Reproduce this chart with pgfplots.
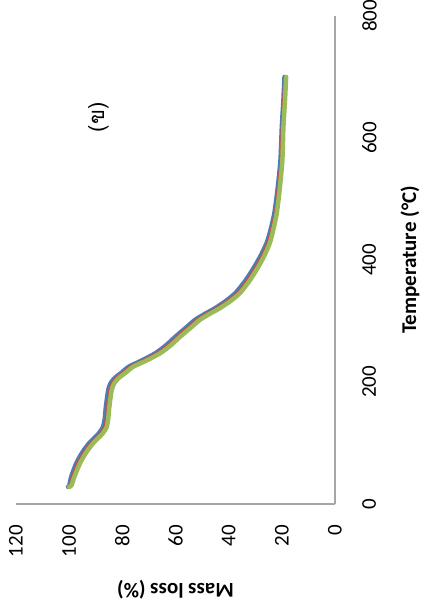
\documentclass[border=0pt]{standalone}
\usepackage{pgfplots}
\pgfplotsset{compat=1.18}
\usepackage{fontspec}
\setmainfont{Carlito}
\newfontfamily\thaifont[Script=Thai]{Loma}
\definecolor{xlblue}{HTML}{4A7EBB}
\definecolor{xlred}{HTML}{C0504D}
\definecolor{xlgreen}{HTML}{9BBB59}
\definecolor{axgray}{HTML}{A6A6A6}

\pgfplotstableread{
T M
28 100.4
31 99.9
45 99.2
67 97.3
85 95.0
100 92.4
115 89.0
126 87.3
140 86.6
159 86.2
187 85.3
198 84.4
206 83.0
215 80.4
225 77.6
235 72.8
247 67.6
260 63.6
274 60.1
290 55.8
302 52.6
312 48.8
321 45.1
333 41.0
346 37.4
365 33.9
384 31.0
405 28.2
428 25.7
450 24.2
477 22.8
520 21.5
564 20.5
618 20.0
662 19.4
700 19.0
}\bluedata

\pgfplotstableread{
T M
28 100.2
31 99.5
45 98.6
67 96.6
85 94.2
100 91.6
115 88.2
126 86.6
140 85.9
159 85.5
187 84.6
198 83.7
206 82.2
215 79.6
225 76.7
235 71.9
247 66.7
260 62.7
274 59.2
290 54.9
302 51.7
312 47.9
321 44.2
333 40.1
346 36.5
365 33.1
384 30.2
405 27.5
428 25.1
450 23.7
477 22.3
520 21.1
564 20.1
618 19.7
662 19.1
700 18.7
}\reddata

\pgfplotstableread{
T M
28 100
31 99.1
45 98
67 95.9
85 93.5
100 90.9
115 87.5
126 85.9
140 85.3
159 84.9
187 84.0
198 83
206 81.5
215 78.8
225 75.9
235 71
247 65.8
260 61.8
274 58.3
290 54
302 50.8
312 47
321 43.3
333 39.2
346 35.7
365 32.3
384 29.5
405 26.8
428 24.5
450 23.2
477 21.9
520 20.7
564 19.8
618 19.4
662 18.8
700 18.4
}\greendata

\begin{document}
\begin{tikzpicture}
\useasboundingbox (0,0) rectangle (430pt,607pt);
\begin{axis}[
  at={(175.5pt,347pt)}, anchor=center,
  scale only axis, width=319pt, height=488pt,
  x dir=reverse, xmin=0, xmax=120, ymin=0, ymax=800,
  xtick={0,20,...,120}, ytick={0,200,...,800},
  axis x line*=bottom, axis y line*=right,
  axis line style={axgray, line width=1.5pt},
  major tick length=0pt,
  /pgf/number format/assume math mode=true,
  ticklabel style={font=\fontsize{21}{25}\selectfont, text=black, inner sep=0pt},
  xticklabel style={rotate=90, anchor=east},
  yticklabel style={rotate=90, anchor=north},
  xticklabel shift=21pt,
  yticklabel shift=27pt,
  xlabel={\textbf{Mass loss (\%)}},
  ylabel={\textbf{Temperature (°C)}},
  every axis x label/.style={at={(axis description cs:0.5,0)}, anchor=center, rotate=180, yshift=86pt, font=\fontsize{21}{25}\selectfont},
  every axis y label/.style={at={(axis description cs:1,0.5)}, anchor=center, rotate=90, yshift=-75pt, font=\fontsize{21}{25}\selectfont},
  clip=false,
]
\addplot[xlblue, line width=4.5pt, line join=round, line cap=round, smooth, tension=0.4] table[x=M, y=T] {\bluedata};
\addplot[xlred, line width=4pt, line join=round, line cap=round, smooth, tension=0.4] table[x=M, y=T] {\reddata};
\addplot[xlgreen, line width=4.5pt, line join=round, line cap=round, smooth, tension=0.4] table[x=M, y=T] {\greendata};
\node[rotate=90, font=\thaifont\fontsize{22}{26}\selectfont] at (axis cs:89,634) {(ข)};
\end{axis}
\end{tikzpicture}
\end{document}
